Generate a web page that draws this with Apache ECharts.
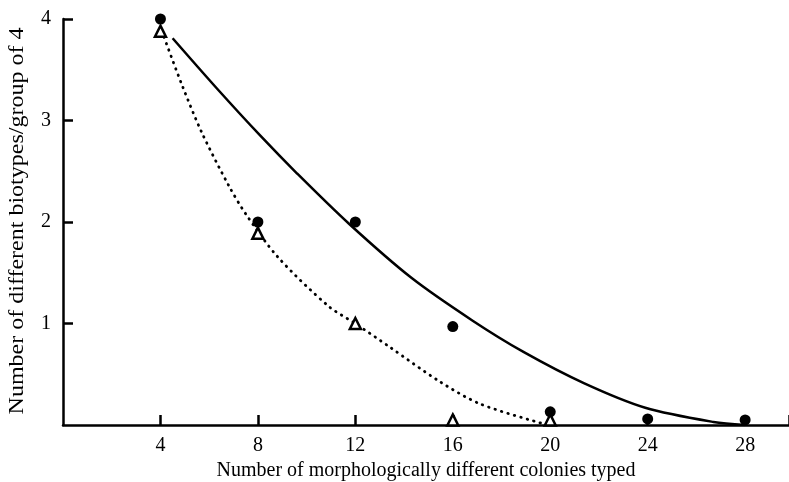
<!DOCTYPE html>
<html>
<head>
<meta charset="utf-8">
<script src="https://cdn.jsdelivr.net/npm/echarts@6/dist/echarts.min.js"></script>
<style>
  html, body { margin: 0; padding: 0; background: #fff; }
  #chart { width: 789px; height: 482px; }
</style>
</head>
<body>
<div id="chart"></div>
<script>
// Observed counts: filled circles and open triangles
const circleX = [4, 8, 12, 16, 20, 24, 28];
const circleY = [4.0, 2.0, 2.0, 0.97, 0.13, 0.06, 0.05];
const triangleX = [4, 8, 12, 16, 20];
const triangleY = [3.88, 1.89, 1.0, 0.05, 0.05];

// Fitted curves (solid and dotted)
const solidCurveX = [4.5, 6.3, 8.1, 9.6, 11.75, 14.3, 16.8, 18.9, 21.4, 23.9, 26.7, 28.0];
const solidCurveY = [3.81, 3.32, 2.85, 2.48, 1.98, 1.45, 1.03, 0.72, 0.41, 0.17, 0.03, 0.0];
const dottedCurveX = [4.15, 4.9, 5.7, 6.8, 7.5, 8.8, 10.9, 12.0, 13.4, 15.45, 17.1, 19.6];
const dottedCurveY = [3.82, 3.34, 2.88, 2.36, 2.08, 1.66, 1.17, 1.0, 0.77, 0.43, 0.21, 0.02];

// Axis tick values
const xTicks = [4, 8, 12, 16, 20, 24, 28];
const yTicks = [1, 2, 3, 4];

const xTitle = 'Number of morphologically different colonies typed';
const yTitle = 'Number of different biotypes/group of 4';

const zip = (xs, ys) => xs.map((x, i) => [x, ys[i]]);
const ink = '#000';
const serif = 'Liberation Serif';

const chart = echarts.init(document.getElementById('chart'), null, { renderer: 'canvas' });
chart.setOption({
  animation: false,
  backgroundColor: '#fff',
  grid: { left: 63, right: 0, top: 19, bottom: 57, containLabel: false, outerBoundsMode: 'none' },
  // vertical axis title, set a little wider along its run
  graphic: [{
    type: 'text',
    x: 18,
    y: 221,
    rotation: Math.PI / 2,
    scaleX: 1.2,
    style: {
      text: yTitle,
      fontFamily: serif,
      fontSize: 20,
      fill: ink,
      align: 'center',
      verticalAlign: 'middle'
    }
  }],
  xAxis: {
    type: 'value',
    min: 0,
    max: 29.8,
    interval: 4,
    name: xTitle,
    nameLocation: 'middle',
    nameGap: 36,
    nameTextStyle: { fontFamily: serif, fontSize: 20, color: ink },
    axisLine: { show: true, onZero: false, lineStyle: { color: ink, width: 2.5 } },
    axisTick: { show: true, inside: true, length: 10, lineStyle: { color: ink, width: 2.5 } },
    axisLabel: {
      fontFamily: serif, fontSize: 20, color: ink, margin: 11,
      showMinLabel: false,
      formatter: v => (xTicks.includes(v) ? String(v) : '')
    },
    splitLine: { show: false }
  },
  yAxis: {
    type: 'value',
    min: 0,
    max: 4,
    interval: 1,
    axisLine: { show: true, onZero: false, lineStyle: { color: ink, width: 2.5 } },
    axisTick: { show: true, inside: true, length: 10, lineStyle: { color: ink, width: 2.5 } },
    axisLabel: {
      fontFamily: serif, fontSize: 20, color: ink, margin: 12,
      showMinLabel: false,
      formatter: v => (yTicks.includes(v) ? String(v) : '')
    },
    splitLine: { show: false }
  },
  series: [
    {
      type: 'line',
      data: zip(solidCurveX, solidCurveY),
      smooth: 0.3,
      showSymbol: false,
      silent: true,
      z: 2,
      lineStyle: { color: ink, width: 2.5 }
    },
    {
      type: 'line',
      data: zip(dottedCurveX, dottedCurveY),
      smooth: 0.3,
      showSymbol: false,
      silent: true,
      z: 2,
      lineStyle: { color: ink, width: 2.8, type: [0.5, 6.2], cap: 'round' }
    },
    {
      type: 'scatter',
      data: zip(triangleX, triangleY),
      symbol: 'triangle',
      symbolSize: 11,
      z: 3,
      itemStyle: { color: '#fff', borderColor: ink, borderWidth: 2.5, opacity: 1 }
    },
    {
      type: 'scatter',
      data: zip(circleX, circleY),
      symbol: 'circle',
      symbolSize: 11,
      z: 4,
      itemStyle: { color: ink, opacity: 1 }
    }
  ]
});
</script>
</body>
</html>
